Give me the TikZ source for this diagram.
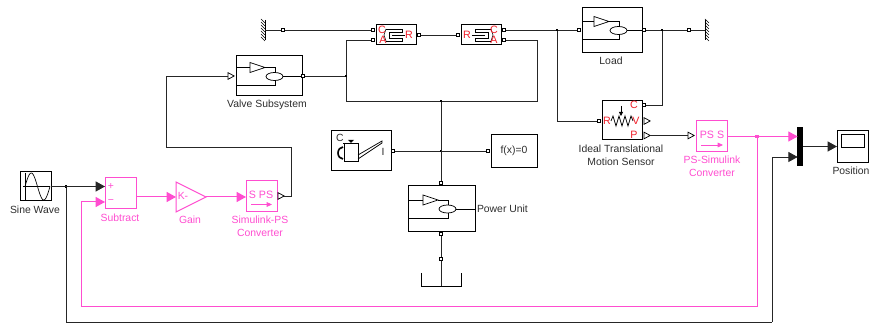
\documentclass[tikz,border=0pt]{standalone}
\usepackage{fontspec}
\setmainfont{Liberation Sans}
\usepackage{xcolor}
\usetikzlibrary{arrows.meta,shapes.geometric}
\definecolor{simpink}{RGB}{255,77,208}
\definecolor{simred}{RGB}{240,30,40}
\definecolor{simtext}{RGB}{45,45,45}

% triangle + ellipse symbol inside the fluid blocks
\newcommand{\fluidicon}[3]{%
  \begin{scope}[shift={(#1)},line width=0.55pt]
    \draw (-#2,0) -- (0,0);
    \draw (0,-5) -- (15,0) -- (0,5) -- cycle;
    \draw (15,0) -- (25,0) -- (25,5);
    \draw (24.5,9) ellipse (8.5 and 4);
    \draw (33,9) -- (#3,9);
    \draw (-#2,18) -- (25,18) -- (25,13);
  \end{scope}}
% cylinder symbol inside the actuator blocks
\newcommand{\cylicon}[2]{%
  \begin{scope}[shift={(#1)},xscale=#2,line width=0.45pt]
    \draw (-9,-6) -- (7,-6) -- (7,-3) -- (-6,-3) -- (-6,3) -- (7,3) -- (7,6) -- (-9,6);
    \draw (-9,-6) -- (-11,0) -- (-9,6);
    \draw (-3,0) -- (10,0);
  \end{scope}}

\begin{document}
\begin{tikzpicture}[
    x=0.75pt, y=-0.75pt,
    every node/.style={inner sep=0pt, outer sep=0pt, font=\fontsize{7.8}{9}\selectfont, text=simtext, align=center},
    block/.style 2 args={draw, line width=0.75pt, rectangle, fill=white, minimum width=#1*0.75pt, minimum height=#2*0.75pt},
    pinkblock/.style 2 args={block={#1}{#2}, draw=simpink},
    port/.style={draw, line width=0.6pt, fill=white, rectangle, minimum size=2.6pt},
    junction/.style={fill=black, rectangle, minimum size=2pt},
    psport/.style={draw, line width=0.55pt, fill=white, isosceles triangle, isosceles triangle stretches, minimum width=5pt, minimum height=4.6pt},
    pinktext/.style={text=simpink},
    redtext/.style={text=simred, font=\fontsize{8}{9}\selectfont},
    wire/.style={line width=0.7pt, draw=black!85},
    pinkwire/.style={line width=0.75pt, draw=simpink},
    sig/.style={wire, -{Triangle[length=7pt,width=7.5pt]}},
    pinksig/.style={pinkwire, -{Triangle[length=7pt,width=7.5pt,fill=simpink]}}
]
\useasboundingbox (0,0) rectangle (872,323);

% signal blocks
\node[block={31}{29}] (sine) at (35.5,186.5) {};
\node[pinkblock={31}{31}] (subtract) at (120.5,193.5) {};
\node[draw=simpink, line width=0.75pt, isosceles triangle, isosceles triangle stretches, minimum width=22.5pt, minimum height=22.5pt, anchor=apex] (gain) at (206,197) {};
\node[pinkblock={31}{31}] (simps) at (261.5,196.5) {};
\node[pinkblock={31}{31}] (pssim) at (712,136.5) {};
\node[fill=black, minimum width=4.5pt, minimum height=29pt] (mux) at (800,146.5) {};
\node[block={31}{32}] (scope) at (852.5,146.5) {};
\draw[line width=0.6pt] (841,134) rectangle (864,147);

% fluid blocks
\node[block={66}{40}] (valve) at (269,76) {};
\node[block={60}{45}] (load) at (612,30.5) {};
\node[block={67}{46}] (powerunit) at (441.5,209) {};
\node[block={40}{20}] (cyla) at (396,35) {};
\node[block={40}{20}] (cylb) at (481,35) {};
\node[block={40}{39}] (sensor) at (622,120.5) {};
\node[block={60}{40}] (tank) at (361,151) {};
\node[block={46}{33}] (solver) at (514,151.5) {};

\fluidicon{250,67.5}{14}{52}
\fluidicon{594,21.5}{12}{48}
\fluidicon{423,200}{15}{52}
\cylicon{395,35}{1}
\cylicon{482,35}{-1}

% sine wave icon
\draw[line width=0.5pt] (25,173) -- (25,200) (23,186.5) -- (50,186.5);
\draw[line width=0.5pt, domain=0:360, samples=40, smooth] plot ({25+\x/14.4},{186.5-13.5*sin(\x)});

% spring of the sensor
\draw[line width=0.55pt] (611,121) -- (613,116) -- (616,126) -- (619,116) -- (622,126) -- (625,116) -- (628,126) -- (631,116) -- (633,121);
\draw[line width=0.6pt, -{Triangle[length=3pt,width=3pt]}] (621,106) -- (621,116);

% tank icon
\draw[line width=0.6pt] (344,143) rectangle (358,161);
\draw[line width=0.6pt] (343,143) -- (359,143);
\fill (348,140) -- (354,140) -- (351,143) -- cycle;
\draw[line width=1.2pt] (343,147) arc (270:90:5 and 6);
\draw[line width=0.55pt] (358,155) -- (382,141) -- (382,143) -- (358,159);

% walls and reservoir
\draw[line width=0.7pt] (265,20) -- (265,40);
\foreach \i in {0,3,...,18} {\draw[line width=0.4pt] (265,\i+23) -- (261,\i+19);}
\draw[line width=0.7pt] (705,20) -- (705,40);
\foreach \i in {0,3,...,18} {\draw[line width=0.4pt] (705,\i+19) -- (709,\i+23);}
\coordinate (walla) at (265,30);
\coordinate (wallb) at (705,30);
\coordinate (tanktop) at (441,286);
\draw[line width=0.7pt] (421,273) -- (421,286) -- (461,286) -- (461,273);

% ports
\node[port] (cylaC) at (373,30) {};
\node[port] (cylaA) at (373,40) {};
\node[port] (cylaR) at (419,35) {};
\node[port] (cylbR) at (458,35) {};
\node[port] (cylbC) at (504,30) {};
\node[port] (cylbA) at (504,40) {};
\node[port] (loadin) at (579,30) {};
\node[port] (loadout) at (644,30) {};
\node[port] (valveout) at (303,76) {};
\node[port] (sensorR) at (599,121) {};
\node[port] (sensorC) at (644,105) {};
\node[port] (tankout) at (393,151) {};
\node[port] (solverin) at (488,151) {};
\node[port] (puin) at (441,183) {};
\node[port] (puout) at (441,234) {};
\node[psport] (simpsout) at (280,196) {};
\node[psport] (valvein) at (230,76) {};
\node[psport] (sensorV) at (646,121) {};
\node[psport] (sensorP) at (646,135.5) {};
\node[psport] (pssimin) at (690,135.5) {};
\node[port] (wallaport) at (283,30) {};
\node[port] (wallbport) at (689,30) {};
\node[port] (tankport) at (441,259) {};

% junctions
\node[junction] (jvalve) at (346,76) {};
\node[junction] (jpipe) at (441,101) {};
\node[junction] (jtank) at (441,151) {};
\node[junction] (jload) at (557,30) {};
\node[junction] (jcase) at (662,30) {};
\node[junction] (jsine) at (66,186.5) {};
\node[fill=simpink, minimum size=2.4pt] (jpink) at (757,136.5) {};

% bends and inputs
\coordinate (subplus) at (105,186.5);
\coordinate (subminus) at (105,202);
\coordinate (muxa) at (797.7,136.5);
\coordinate (muxb) at (797.7,157);
\coordinate (bendpink) at (81,307);
\coordinate (bendblack) at (772,322);
\coordinate (bendsim) at (291,147);
\coordinate (bendvalve) at (166,76);
\coordinate (bendpipeB) at (537,101);

% fluid connections
\draw[wire] (walla) -- (wallaport) -- (cylaC);
\draw[wire] (cylaR) -- (cylbR);
\draw[wire] (cylbC) -- (jload) -- (loadin);
\draw[wire] (loadout) -- (jcase) -- (wallbport) -- (wallb);
\draw[wire] (valveout) -- (jvalve);
\draw[wire] (cylaA) -| (jvalve) |- (jpipe) -- (puin);
\draw[wire] (cylbA) -| (bendpipeB) -- (jpipe);
\draw[wire] (jload) |- (sensorR);
\draw[wire] (sensorC) -| (jcase);
\draw[wire] (tankout) -- (jtank) -- (solverin);
\draw[wire] (puout) -- (tankport) -- (tanktop);
\draw[wire] (simpsout.apex) -| (bendsim) -| (bendvalve) -- (valvein.west);
\draw[wire] (sensorP.apex) -- (pssimin.west);

% signal connections
\draw[sig] (sine.east) -- (subplus);
\draw[pinksig] (subtract.east |- gain.apex) -- (gain.lower side);
\draw[pinksig] (gain.apex) -- (simps.west |- gain.apex);
\draw[pinksig] (pssim.east) -- (muxa);
\draw[pinkwire] (jpink) |- (bendpink);
\draw[pinksig] (bendpink) |- (subminus);
\draw[wire] (jsine) |- (bendblack);
\draw[sig] (bendblack) |- (muxb);
\draw[sig] (mux.east) -- (scope.west);

% text inside blocks
\node[pinktext] (subplusl) at (111,186.5) {+};
\node[pinktext] (subminusl) at (111,202) {−};
\node[pinktext] (gaink) at (183,196) {K-};
\node[pinktext, font=\fontsize{8}{9}\selectfont] (simpstxt) at (261,195) {S PS};
\node[pinktext, font=\fontsize{8}{9}\selectfont] (pssimtxt) at (712,135) {PS S};
\coordinate (simpsa) at (251,204.5);
\coordinate (simpsb) at (272,204.5);
\coordinate (pssima) at (701,145);
\coordinate (pssimb) at (723,145);
\draw[pinkwire, line width=0.6pt, -{Triangle[length=4pt,width=3.5pt,fill=simpink]}] (simpsa) -- (simpsb);
\draw[pinkwire, line width=0.6pt, -{Triangle[length=4pt,width=3.5pt,fill=simpink]}] (pssima) -- (pssimb);
\node[redtext] (cylaCl) at (382,30) {C};
\node[redtext] (cylaAl) at (383,40) {A};
\node[redtext] (cylaRl) at (409,34.5) {R};
\node[redtext] (cylbRl) at (467,34.5) {R};
\node[redtext] (cylbCl) at (494,30) {C};
\node[redtext] (cylbAl) at (494,40) {A};
\node[redtext] (sensorCl) at (634,105) {C};
\node[redtext] (sensorVl) at (636,120.5) {V};
\node[redtext] (sensorPl) at (634,134.5) {P};
\node[redtext] (sensorRl) at (607,121) {R};
\node (tankC) at (340,138) {C};
\node (tankI) at (383,152) {I};
\node (solvertxt) at (514,151) {f(x)=0};

% labels
\node (sinel) at (35,210) {Sine Wave};
\node[pinktext] (subtractl) at (120,218) {Subtract};
\node[pinktext] (gainl) at (190,220) {Gain};
\node[pinktext] (simpsl) at (260,226.5) {Simulink-PS\\[1pt]Converter};
\node (valvel) at (267,104.5) {Valve Subsystem};
\node (loadl) at (611,61) {Load};
\node (sensorl) at (621,155.5) {Ideal Translational\\[1pt]Motion Sensor};
\node[pinktext] (pssiml) at (712,166.5) {PS-Simulink\\[1pt]Converter};
\node (scopel) at (851,171) {Position};
\node[anchor=west] (powerl) at (477,209) {Power Unit};
\end{tikzpicture}
\end{document}
